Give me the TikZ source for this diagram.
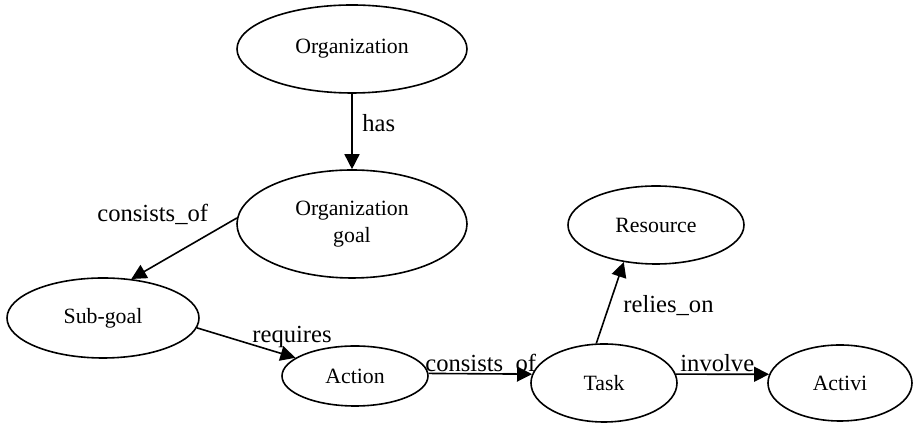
\documentclass[tikz,border=0pt]{standalone}
\usepackage{fontspec}
\setmainfont{Liberation Serif}
\usetikzlibrary{shapes.geometric,arrows.meta}
\begin{document}
\begin{tikzpicture}[x=0.5pt,y=-0.5pt,
  ent/.style={draw, ellipse, line width=0.8pt, inner sep=0pt, align=center,
    font=\fontsize{10.9}{13.5}\selectfont},
  rel/.style={draw, line width=0.8pt, -{Triangle[length=7.5pt,width=7.5pt]}},
  lbl/.style={anchor=base west, inner sep=0pt, font=\fontsize{12.3}{14}\selectfont}]
\useasboundingbox (0,0) rectangle (918,426);
\node[ent, minimum width=115pt, minimum height=44pt] (org) at (352,49) {Organization};
\node[ent, minimum width=115pt, minimum height=54pt] (goal) at (352,224) {Organization\\goal};
\node[ent, minimum width=96pt, minimum height=40pt] (sub) at (103,318) {Sub-goal};
\node[ent, minimum width=73pt, minimum height=30pt] (act) at (355,376) {Action};
\node[ent, minimum width=73pt, minimum height=39pt] (task) at (604,383) {Task};
\node[ent, minimum width=72pt, minimum height=38pt] (activ) at (840,383) {Activi};
\node[ent, minimum width=88pt, minimum height=39pt] (res) at (656,225) {Resource};

\draw[rel] (org.south) -- (goal.north);
\draw[rel] (goal.177) -- (sub.54);
\draw[rel] (sub.-6.5) -- (act.163);
\draw[rel] (act.2) -- (task.173);
\draw[rel] (task.7) -- (activ.173);
\draw[rel] (task.101.6) -- (res.229);

\node[lbl] (lhas) at (362,132) {has};
\node[lbl] (lcons1) at (97,222) {consists\_of};
\node[lbl] (lreq) at (252,343) {requires};
\node[lbl] (lcons2) at (425,372) {consists\_of};
\node[lbl] (linv) at (680,372) {involve};
\node[lbl] (lrel) at (623,313) {relies\_on};
\end{tikzpicture}
\end{document}
